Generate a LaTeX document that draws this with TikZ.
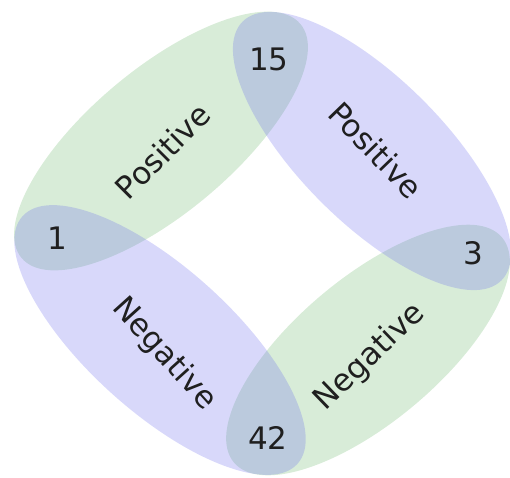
\documentclass[tikz,border=0pt]{standalone}
\usepackage{fontspec}
\setsansfont{DejaVu Sans}
\definecolor{posgreen}{RGB}{99,179,99}
\definecolor{negblue}{RGB}{101,101,236}
\tikzset{
  greenband/.style={fill=posgreen, fill opacity=.25},
  blueband/.style={fill=negblue, fill opacity=.25},
  lbl/.style={font=\sffamily\fontsize{31}{36}\selectfont, text=black!88, inner sep=0pt}
}
\begin{document}
\begin{tikzpicture}[x=1pt,y=-1pt]
\useasboundingbox (0,0) rectangle (510,477);
% the four bands
\fill[greenband, rotate around={40:(161,141)}] (161,141) ellipse (182 and 72);
\fill[greenband, rotate around={40:(368,350)}] (368,350) ellipse (175 and 72);
\fill[blueband, rotate around={-45:(372,151)}] (372,151) ellipse (183 and 72);
\fill[blueband, rotate around={-42:(160,340)}] (160,340) ellipse (185 and 72);
% numbers where the bands meet
\node[lbl] (one) at (57,238) {1};
\node[lbl] (fifteen) at (269,59) {15};
\node[lbl] (three) at (473,253) {3};
\node[lbl] (fortytwo) at (268,438) {42};
% band labels
\node[lbl, rotate=45] (posleft) at (163,151) {Positive};
\node[lbl, rotate=-46] (posright) at (376,150) {Positive};
\node[lbl, rotate=-48] (negleft) at (164,354) {Negative};
\node[lbl, rotate=44] (negright) at (370,357) {Negative};
\end{tikzpicture}
\end{document}
